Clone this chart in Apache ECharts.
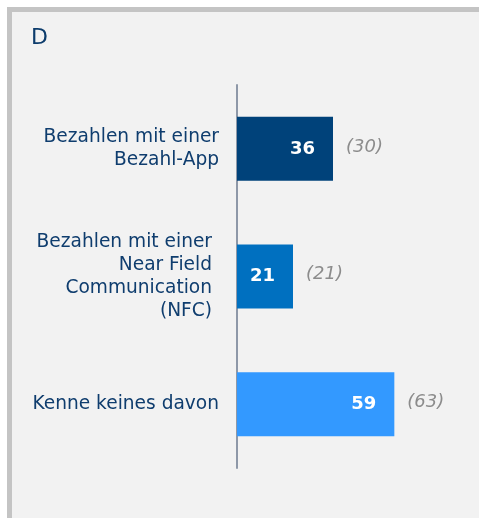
<!DOCTYPE html>
<html>
<head>
<meta charset="utf-8">
<script src="https://cdn.jsdelivr.net/npm/echarts@6/dist/echarts.min.js"></script>
<style>
html, body { margin: 0; padding: 0; background: #ffffff; }
#chart { width: 479px; height: 518px; }
</style>
</head>
<body>
<div id="chart"></div>
<script>
var categories = ['Bezahlen mit einer\nBezahl-App', 'Bezahlen mit einer\nNear Field\nCommunication\n(NFC)', 'Kenne keines davon'];
var values = [36, 21, 59];
var previous = [30, 21, 63];
var barColors = ['#00427a', '#0070c0', '#3399ff'];

var myChart = echarts.init(document.getElementById('chart'));
var font = 'DejaVu Sans, Verdana, sans-serif';

option = {
	animation: false,
	graphic: [
		{ type: 'rect', z: -10, shape: { x: 7, y: 7, width: 472, height: 511 }, style: { fill: '#c4c4c4' } },
		{ type: 'rect', z: -9, shape: { x: 12, y: 12, width: 467, height: 506 }, style: { fill: '#f2f2f2' } }
	],
	title: {
		text: 'D',
		left: 26,
		top: 22,
		textStyle: { color: '#0d3c6c', fontSize: 22, fontWeight: 'normal', fontFamily: font }
	},
	grid: {
		left: 237,
		top: 85,
		width: 200,
		height: 383
	},
	xAxis: {
		type: 'value',
		min: 0,
		max: 75,
		show: false
	},
	yAxis: {
		type: 'category',
		inverse: true,
		data: categories,
		axisTick: { show: false },
		axisLine: { lineStyle: { color: '#8e98a8', width: 2 } },
		axisLabel: {
			margin: 18,
			color: '#0f3d6e',
			fontSize: 18.6,
			lineHeight: 23,
			fontFamily: font,
			formatter: function (v, idx) {
				return idx === 1 ? '{n|' + v + '}' : v;
			},
			rich: {
				n: { color: '#0f3d6e', fontSize: 18.6, lineHeight: 23, fontFamily: font, padding: [0, 7, 0, 0] }
			}
		}
	},
	series: [
		{
			type: 'bar',
			barWidth: 64,
			data: values.map(function (v, k) {
				return { value: v, itemStyle: { color: barColors[k] } };
			}),
			label: {
				show: true,
				position: 'insideRight',
				distance: 18,
				color: '#ffffff',
				fontWeight: 'bold',
				fontSize: 18,
				fontFamily: font
			}
		},
		{
			type: 'bar',
			barWidth: 64,
			barGap: '-100%',
			data: values,
			itemStyle: { color: 'rgba(0,0,0,0)' },
			label: {
				show: true,
				position: 'right',
				distance: 13,
				offset: [0, -2],
				color: '#8c8c8c',
				fontStyle: 'italic',
				fontSize: 18,
				fontFamily: font,
				formatter: function (p) {
					return '(' + previous[p.dataIndex] + ')';
				}
			}
		}
	]
};
myChart.setOption(option);
</script>
</body>
</html>
